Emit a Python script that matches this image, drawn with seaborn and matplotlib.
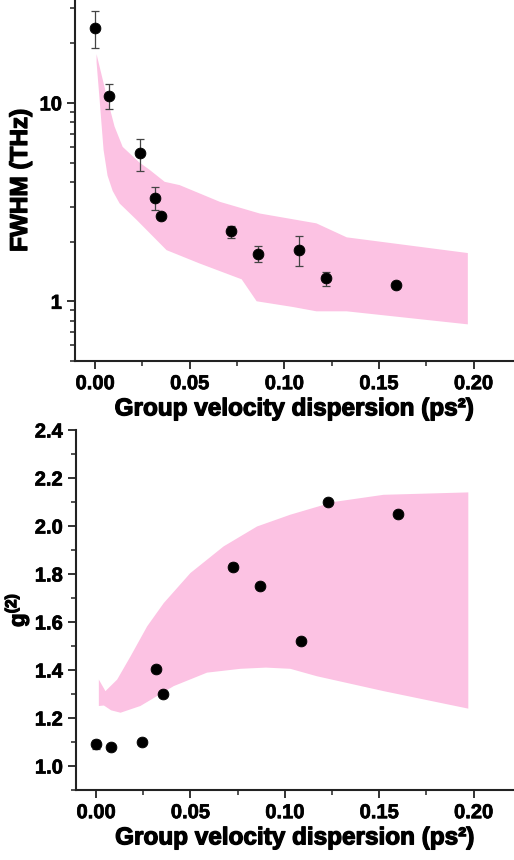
import numpy as np
import matplotlib
matplotlib.use('Agg')
import matplotlib.pyplot as plt
import matplotlib.ticker as mticker
import matplotlib.patheffects as pe
import seaborn as sns

# Data: FWHM vs GVD
gvd = [0.0, 0.0075, 0.024, 0.0315, 0.035, 0.072, 0.086, 0.108, 0.122, 0.159]
fwhm = [23.9, 10.8, 5.59, 3.32, 2.69, 2.25, 1.74, 1.82, 1.31, 1.21]
fwhm_lo = [18.8, 9.3, 4.55, 2.88, 2.69, 2.09, 1.57, 1.50, 1.20, 1.21]
fwhm_hi = [29.2, 12.4, 6.58, 3.78, 2.69, 2.40, 1.91, 2.14, 1.40, 1.21]

# simulated FWHM band
fw_up_x = [0.0008, 0.0066, 0.0103, 0.0146, 0.0235, 0.0288, 0.0368, 0.0447, 0.066, 0.087, 0.117, 0.133, 0.197]
fw_up_y = [17.6, 10.4, 7.6, 6.0, 5.0, 4.6, 4.0, 3.85, 3.17, 2.77, 2.47, 2.10, 1.75]
fw_lo_x = [0.0008, 0.0024, 0.0045, 0.0066, 0.0093, 0.013, 0.022, 0.0378, 0.0553, 0.0775, 0.0854, 0.1045, 0.117, 0.133, 0.197]
fw_lo_y = [16.0, 10.4, 5.79, 4.3, 3.6, 3.11, 2.57, 1.81, 1.55, 1.29, 1.0, 0.936, 0.89, 0.89, 0.765]

# Data: g2 vs GVD
gvd2 = [0.0, 0.0077, 0.0242, 0.032, 0.0357, 0.0728, 0.0867, 0.1086, 0.1227, 0.1597]
g2 = [1.09, 1.081, 1.10, 1.405, 1.30, 1.83, 1.75, 1.52, 2.10, 2.048]
g2_err = [0.02, 0.0, 0.0, 0.0, 0.0, 0.015, 0.0, 0.0, 0.0, 0.0]

# simulated g2 band
g2_up_x = [0.0015, 0.005, 0.0112, 0.0183, 0.0271, 0.0359, 0.050, 0.0676, 0.0853, 0.1029, 0.1258, 0.1523, 0.1972]
g2_up_y = [1.36, 1.312, 1.36, 1.457, 1.582, 1.679, 1.804, 1.915, 1.998, 2.047, 2.10, 2.13, 2.14]
g2_lo_x = [0.0015, 0.0042, 0.008, 0.013, 0.0235, 0.0412, 0.0588, 0.0765, 0.0900, 0.1029, 0.117, 0.1523, 0.1972]
g2_lo_y = [1.250, 1.252, 1.232, 1.222, 1.250, 1.333, 1.389, 1.405, 1.410, 1.405, 1.374, 1.312, 1.239]

xticks = [0.00, 0.05, 0.10, 0.15, 0.20]
xlabel = 'Group velocity dispersion (ps\u00b2)'

pink = '#fcc2e3'

sns.set_style('ticks')
plt.rcParams['font.family'] = ['Liberation Sans', 'DejaVu Sans']
plt.rcParams['font.weight'] = 'bold'
plt.rcParams['text.color'] = 'black'
plt.rcParams['axes.labelcolor'] = 'black'
plt.rcParams['mathtext.fontset'] = 'custom'
plt.rcParams['mathtext.bf'] = 'Liberation Sans:bold'
plt.rcParams['mathtext.rm'] = 'Liberation Sans:bold'

thick_small = [pe.withStroke(linewidth=0.5, foreground='black')]
thick_big = [pe.withStroke(linewidth=0.9, foreground='black')]

W, H = 514, 860
fig = plt.figure(figsize=(W / 100, H / 100), dpi=100)
ax1 = fig.add_axes([75 / W, 1 - 361 / H, (W - 75) / W, 361 / H])
ax2 = fig.add_axes([76 / W, 1 - 790 / H, (W - 76) / W, 360 / H])


def style(ax):
    for s in ['top', 'right']:
        ax.spines[s].set_visible(False)
    for s in ['left', 'bottom']:
        ax.spines[s].set_linewidth(1.5)
        ax.spines[s].set_color('#222222')
    ax.tick_params(which='major', direction='out', length=6, width=1.3, labelsize=14.5,
                   colors='#222222', labelcolor='black')
    ax.tick_params(which='minor', direction='out', length=3.5, width=1.1, colors='#222222')
    ax.set_xlim(-0.0106, 0.2214)
    ax.set_xticks(xticks)
    ax.xaxis.set_major_formatter(mticker.FormatStrFormatter('%.2f'))
    ax.xaxis.set_minor_locator(mticker.MultipleLocator(0.025))
    for lab in ax.get_xticklabels() + ax.get_yticklabels():
        lab.set_fontweight('bold')
        lab.set_path_effects(thick_small)
    ax.set_xlabel(xlabel, fontsize=17.5, fontweight='bold', labelpad=3, path_effects=thick_big)


# top panel
poly_x = fw_up_x + fw_lo_x[::-1]
poly_y = fw_up_y + fw_lo_y[::-1]
ax1.fill(poly_x, poly_y, color=pink, lw=0, zorder=1)
fwhm_a = np.array(fwhm)
ax1.errorbar(gvd, fwhm, yerr=[fwhm_a - np.array(fwhm_lo), np.array(fwhm_hi) - fwhm_a],
             fmt='none', ecolor='#444444', elinewidth=0.9, capsize=3, capthick=0.9, zorder=2)
sns.scatterplot(x=gvd, y=fwhm, ax=ax1, color='black', s=60, edgecolor='black', zorder=3, legend=False)
ax1.set_yscale('log')
ax1.set_ylim(0.5, 33)
ax1.yaxis.set_major_locator(mticker.FixedLocator([1, 10]))
ax1.yaxis.set_major_formatter(mticker.FixedFormatter(['1', '10']))
ax1.yaxis.set_minor_locator(mticker.LogLocator(base=10, subs=np.arange(2, 10), numticks=10))
ax1.yaxis.set_minor_formatter(mticker.NullFormatter())
ax1.set_ylabel('FWHM (THz)', fontsize=17.5, fontweight='bold', path_effects=thick_big)
style(ax1)
ax1.yaxis.set_label_coords(-0.098, 0.5)

# bottom panel
poly_x2 = g2_up_x + g2_lo_x[::-1]
poly_y2 = g2_up_y + g2_lo_y[::-1]
ax2.fill(poly_x2, poly_y2, color=pink, lw=0, zorder=1)
ax2.errorbar(gvd2, g2, yerr=g2_err, fmt='none', ecolor='#444444', elinewidth=0.9,
             capsize=3, capthick=0.9, zorder=2)
sns.scatterplot(x=gvd2, y=g2, ax=ax2, color='black', s=60, edgecolor='black', zorder=3, legend=False)
ax2.set_ylim(0.9, 2.4)
ax2.set_yticks([1.0, 1.2, 1.4, 1.6, 1.8, 2.0, 2.2, 2.4])
ax2.yaxis.set_major_formatter(mticker.FormatStrFormatter('%.1f'))
ax2.yaxis.set_minor_locator(mticker.MultipleLocator(0.1))
ax2.set_ylabel(r'$\mathbf{g^{(2)}}$', fontsize=16, path_effects=thick_big)
style(ax2)
ax2.yaxis.set_label_coords(-0.100, 0.5)

fig.savefig('out.png', dpi=100)
